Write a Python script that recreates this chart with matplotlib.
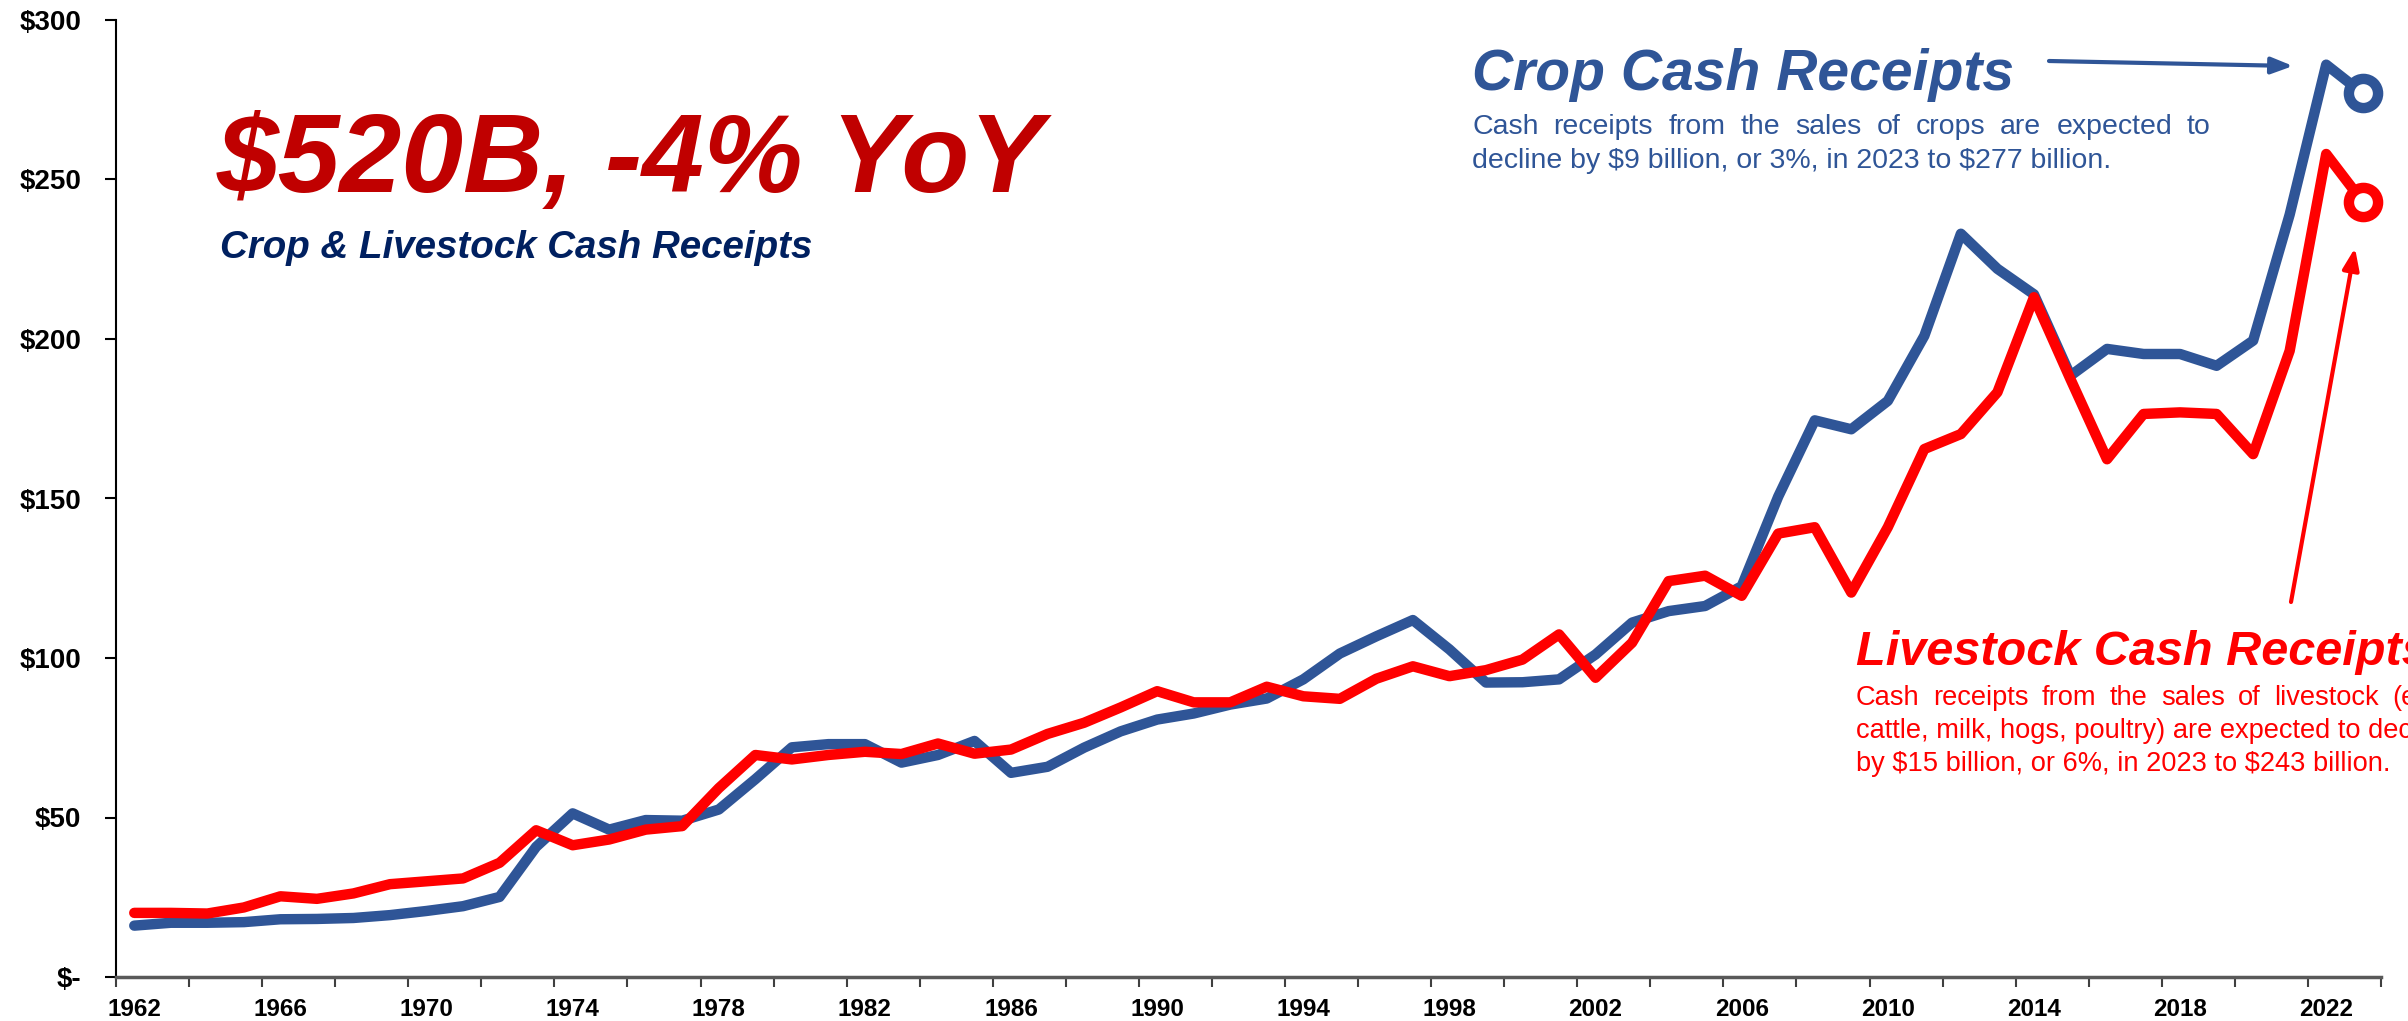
import numpy as np
import matplotlib
matplotlib.use("Agg")
import matplotlib.pyplot as plt

plt.rcParams['font.family'] = ['Liberation Sans', 'DejaVu Sans']
plt.rcParams['text.parse_math'] = False

# ---------------- data ----------------
years = list(range(1962, 2024))
crop = [16.1, 17.0, 17.0, 17.2, 18.1, 18.2, 18.5, 19.4, 20.7, 22.2,
        25.1, 40.8, 51.3, 46.2, 49.2, 49.0, 52.5, 62.0, 72.0, 73.0,
        73.0, 67.2, 69.6, 74.0, 64.0, 65.9, 71.9, 77.0, 80.7, 82.6,
        85.4, 87.3, 93.3, 101.4, 106.8, 111.9, 102.7, 92.3, 92.4, 93.3,
        101.1, 111.1, 114.7, 116.3, 122.5, 150.6, 174.5, 171.7, 180.6, 201.0,
        233.0, 222.0, 214.0, 188.5, 196.9, 195.3, 195.3, 191.6, 199.5, 239.0,
        286.0, 277.0]
livestock = [20.1, 20.1, 19.9, 21.8, 25.3, 24.5, 26.2, 29.1, 30.0, 30.9,
             35.8, 46.0, 41.3, 43.1, 46.2, 47.3, 59.2, 69.6, 68.2, 69.6,
             70.6, 69.9, 73.2, 70.0, 71.3, 76.2, 79.7, 84.5, 89.6, 86.1,
             86.1, 91.0, 88.0, 87.2, 93.5, 97.4, 94.3, 96.2, 99.5, 107.4,
             93.8, 104.8, 124.1, 125.8, 119.5, 139.0, 141.0, 120.5, 141.0, 165.5,
             170.2, 183.3, 213.1, 187.4, 162.3, 176.5, 177.0, 176.5, 163.9, 196.3,
             258.0, 243.0]
year_labels = [str(y) for y in years[::4]]
y_ticks = [0, 50, 100, 150, 200, 250, 300]
y_labels = ['$-', '$50', '$100', '$150', '$200', '$250', '$300']

title = "$520B, -4% YoY"
subtitle = "Crop & Livestock Cash Receipts"
crop_title = "Crop Cash Receipts"
crop_lines = ["Cash receipts from the sales of crops are expected to",
              "decline by $9 billion, or 3%, in 2023 to $277 billion."]
live_title = "Livestock Cash Receipts"
live_lines = ["Cash receipts from the sales of livestock (e.g.,",
              "cattle, milk, hogs, poultry) are expected to decline",
              "by $15 billion, or 6%, in 2023 to $243 billion."]

BLUE = '#2F5597'
RED = '#FF0000'
DARKRED = '#C00000'
NAVY = '#002060'

# ---------------- figure ----------------
W, H = 2408, 1021
fig = plt.figure(figsize=(W / 100, H / 100), dpi=100)
fig.patch.set_facecolor('white')


def fp(x, y):
    return (x / W, 1 - y / H)


ax = fig.add_axes([116 / W, 1 - 977 / H, (2381 - 116) / W, (977 - 20) / H])
x = np.arange(len(years))
ax.plot(x, crop, color=BLUE, lw=7.5, solid_joinstyle='round',
        solid_capstyle='round', zorder=3)
ax.plot(x, livestock, color=RED, lw=7.5, solid_joinstyle='round',
        solid_capstyle='round', zorder=4)
ax.plot(x[-1], crop[-1], 'o', ms=21, mew=7.5, mfc='white', mec=BLUE,
        zorder=5, clip_on=False)
ax.plot(x[-1], livestock[-1], 'o', ms=21, mew=7.5, mfc='white', mec=RED,
        zorder=6, clip_on=False)

ax.set_xlim(-0.5, len(years) - 0.5)
ax.set_ylim(0, 300)
for s in ['top', 'right']:
    ax.spines[s].set_visible(False)
ax.spines['left'].set_color('black')
ax.spines['left'].set_linewidth(1.5)
ax.spines['bottom'].set_color('#595959')
ax.spines['bottom'].set_linewidth(2.5)

ax.set_yticks(y_ticks)
ax.set_yticklabels(y_labels, fontweight='bold', fontsize=20)
ax.tick_params(axis='y', length=8, width=1.5, direction='out', pad=17,
               colors='black')

ax.set_xticks(np.arange(-0.5, len(years), 2))
ax.set_xticklabels([])
ax.set_xticks(x[::4], minor=True)
ax.set_xticklabels(year_labels, minor=True, fontweight='bold', fontsize=17.5)
ax.tick_params(axis='x', which='major', length=7, width=1.5,
               direction='out', color='#404040')
ax.tick_params(axis='x', which='minor', length=0, pad=15)

# ---------------- texts ----------------
fig.text(*fp(217, 192), title, fontsize=80, fontweight='bold',
         fontstyle='italic', color=DARKRED, va='baseline', ha='left')
fig.text(*fp(220, 258), subtitle, fontsize=27.7, fontweight='bold',
         fontstyle='italic', color=NAVY, va='baseline', ha='left')

fig.text(*fp(1472, 90), crop_title, fontsize=41, fontweight='bold',
         fontstyle='italic', color=BLUE, va='baseline', ha='left')
fig.text(*fp(1856, 665), live_title, fontsize=35, fontweight='bold',
         fontstyle='italic', color=RED, va='baseline', ha='left')

renderer = fig.canvas.get_renderer()


def justified(line, x0, x1, ybase, **kw):
    words = line.split(' ')
    ts = [fig.text(0, 0, w, va='baseline', ha='left', **kw) for w in words]
    widths = [t.get_window_extent(renderer).width for t in ts]
    gap = (x1 - x0 - sum(widths)) / (len(words) - 1)
    cx = x0
    for t, w in zip(ts, widths):
        t.set_position(fp(cx, ybase))
        cx += w + gap


def natural_width(line, **kw):
    t = fig.text(0, 0, line, **kw)
    w = t.get_window_extent(renderer).width
    t.remove()
    return w


body_kw = dict(fontsize=20.5, color=BLUE)
justified(crop_lines[0], 1472, 2211, 134, **body_kw)
fig.text(*fp(1472, 168), crop_lines[1], va='baseline', ha='left', **body_kw)

live_kw = dict(fontsize=19.6, color=RED)
box_w = natural_width(live_lines[1], **live_kw)
justified(live_lines[0], 1856, 1856 + box_w, 705, **live_kw)
fig.text(*fp(1856, 738), live_lines[1], va='baseline', ha='left', **live_kw)
fig.text(*fp(1856, 771), live_lines[2], va='baseline', ha='left', **live_kw)

# ---------------- arrows ----------------
ax.annotate('', xy=fp(2293, 66), xycoords='figure fraction',
            xytext=fp(2049, 61), textcoords='figure fraction',
            annotation_clip=False,
            arrowprops=dict(arrowstyle='-|>,head_length=0.65,head_width=0.25',
                            color=BLUE, lw=3, shrinkA=0, shrinkB=0,
                            mutation_scale=20))
ax.annotate('', xy=fp(2355, 248), xycoords='figure fraction',
            xytext=fp(2291, 602), textcoords='figure fraction',
            annotation_clip=False,
            arrowprops=dict(arrowstyle='-|>,head_length=0.65,head_width=0.25',
                            color=RED, lw=3, shrinkA=0, shrinkB=0,
                            mutation_scale=20))

fig.savefig('out.png', dpi=100, facecolor='white')
